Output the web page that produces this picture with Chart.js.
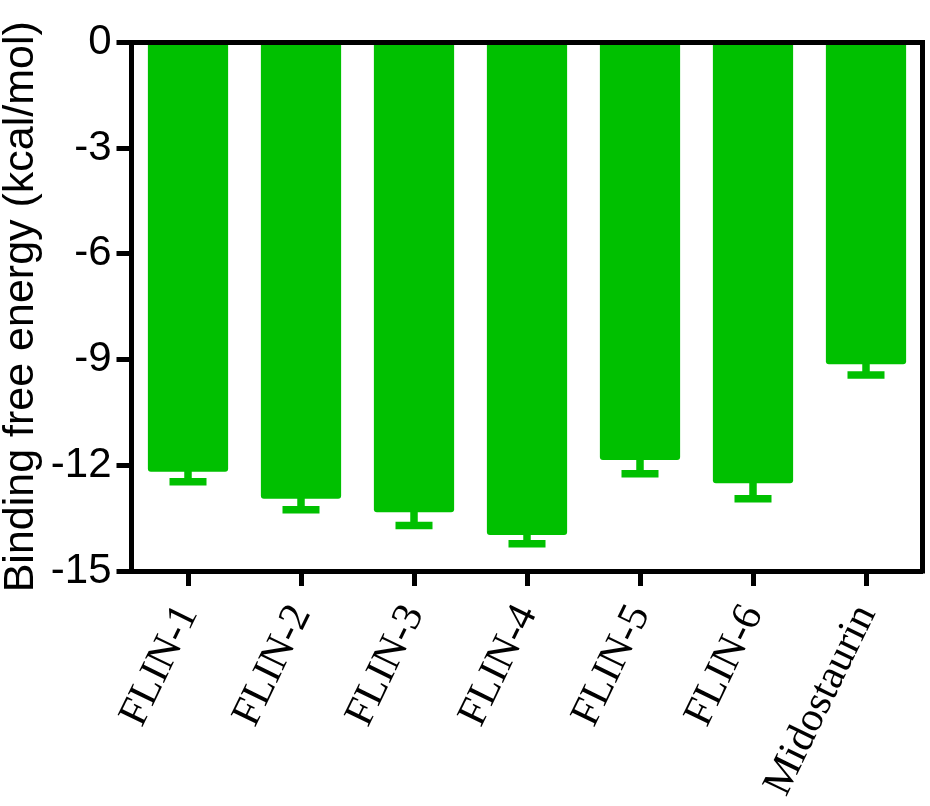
<!DOCTYPE html>
<html>
<head>
<meta charset="utf-8">
<script src="https://cdn.jsdelivr.net/npm/chart.js@4"></script>
<style>
  html, body { margin: 0; padding: 0; background: #fff; }
  #wrap { width: 930px; height: 806px; }
</style>
</head>
<body>
<div id="wrap"><canvas id="c" width="930" height="806"></canvas></div>
<script>
const categories = ["FLIN-1", "FLIN-2", "FLIN-3", "FLIN-4", "FLIN-5", "FLIN-6", "Midostaurin"];
const energyValues = [-12.18, -12.95, -13.33, -13.98, -11.85, -12.51, -9.13];
const energyErrors = [0.29, 0.31, 0.38, 0.25, 0.39, 0.44, 0.31];
const yTicks = [0, -3, -6, -9, -12, -15];
const yTitle = "Binding free energy (kcal/mol)";

const GREEN = "rgb(0,192,0)";

const errorBarPlugin = {
  id: "errorBars",
  afterDatasetsDraw(chart) {
    const meta = chart.getDatasetMeta(0);
    const yScale = chart.scales.y;
    const ctx = chart.ctx;
    ctx.save();
    ctx.strokeStyle = GREEN;
    ctx.lineWidth = 7.5;
    ctx.lineCap = "butt";
    meta.data.forEach((bar, i) => {
      const v = energyValues[i];
      const e = energyErrors[i];
      const y0 = yScale.getPixelForValue(v);
      const y1 = yScale.getPixelForValue(v - e);
      ctx.beginPath();
      ctx.moveTo(bar.x, y0 - 1);
      ctx.lineTo(bar.x, y1);
      ctx.stroke();
      ctx.beginPath();
      ctx.moveTo(bar.x - 18.5, y1);
      ctx.lineTo(bar.x + 18.5, y1);
      ctx.stroke();
    });
    ctx.restore();
  }
};

const framePlugin = {
  id: "frame",
  afterDraw(chart) {
    const a = chart.chartArea;
    const ctx = chart.ctx;
    ctx.save();
    ctx.strokeStyle = "#000";
    ctx.lineWidth = 5;
    ctx.lineCap = "square";
    ctx.beginPath();
    ctx.moveTo(a.left, a.top);
    ctx.lineTo(a.right, a.top);
    ctx.lineTo(a.right, a.bottom);
    ctx.stroke();
    ctx.restore();
  }
};

new Chart(document.getElementById("c"), {
  type: "bar",
  data: {
    labels: categories,
    datasets: [{
      data: energyValues,
      backgroundColor: GREEN,
      borderWidth: 0,
      borderRadius: 3,
      barPercentage: 0.71,
      categoryPercentage: 1.0
    }]
  },
  options: {
    responsive: false,
    animation: false,
    devicePixelRatio: 1,
    layout: { padding: { top: 42.5, right: 7.5, left: 0, bottom: 0 } },
    plugins: { legend: { display: false }, tooltip: { enabled: false } },
    scales: {
      x: {
        offset: true,
        grid: { display: true, drawOnChartArea: false, tickLength: 15, tickWidth: 5, tickColor: "#000", offset: false },
        border: { display: true, color: "#000", width: 5 },
        ticks: {
          color: "#000",
          font: { family: "'Liberation Serif', 'Times New Roman', serif", size: 42 },
          minRotation: 64, maxRotation: 64,
          padding: 11,
          autoSkip: false
        },
        afterFit(scale) { scale.height = 235; }
      },
      y: {
        min: -15, max: 0,
        grid: { display: true, drawOnChartArea: false, tickLength: 15, tickWidth: 5, tickColor: "#000" },
        border: { display: true, color: "#000", width: 5 },
        afterBuildTicks(scale) { scale.ticks = yTicks.map(v => ({ value: v })); },
        ticks: {
          color: "#000",
          font: { family: "'Liberation Sans', Arial, sans-serif", size: 42 },
          padding: 5
        },
        title: {
          display: true,
          text: yTitle,
          color: "#000",
          font: { family: "'Liberation Sans', Arial, sans-serif", size: 43, lineHeight: 1 },
          padding: { top: 0, bottom: 0 }
        },
        afterFit(scale) { scale.width = 131.5; }
      }
    }
  },
  plugins: [errorBarPlugin, framePlugin]
});
</script>
</body>
</html>
